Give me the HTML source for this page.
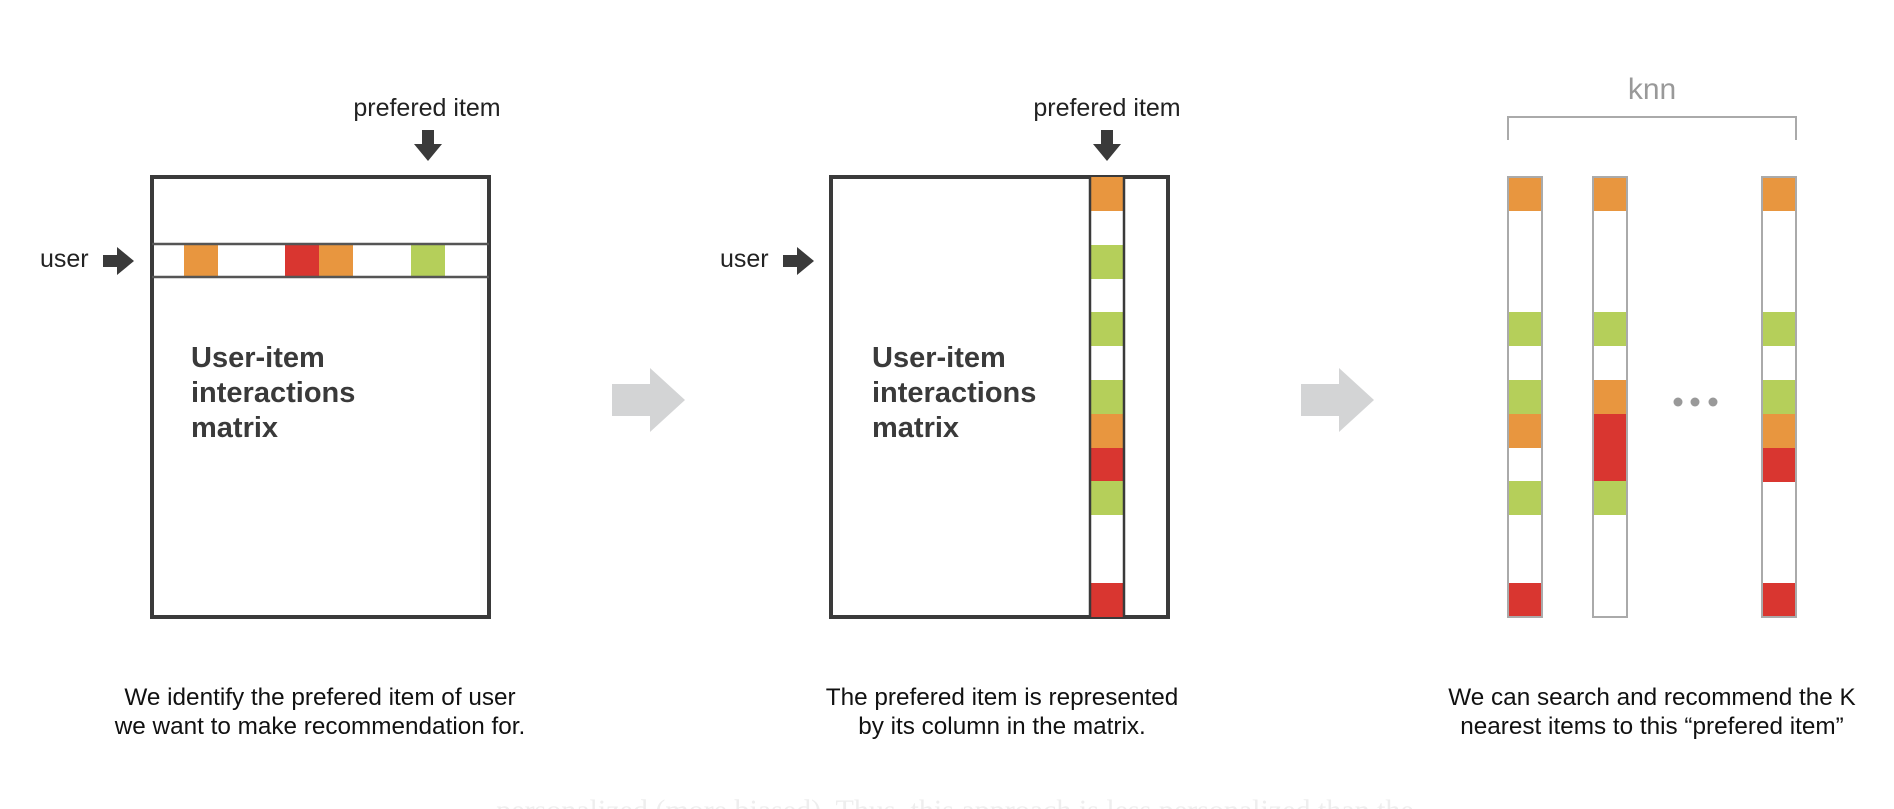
<!DOCTYPE html>
<html><head><meta charset="utf-8"><style>
html,body{margin:0;padding:0;background:#fff;width:1894px;height:809px;overflow:hidden}
text{font-family:"Liberation Sans",Arial,sans-serif}
</style></head><body>
<svg width="1894" height="809" viewBox="0 0 1894 809" xmlns="http://www.w3.org/2000/svg">
<defs>
<g id="darr"><polygon points="-6,0 6,0 6,14 14,14 0,31 -14,14 -6,14" fill="#3a3a3a"/></g>
<g id="rarr"><polygon points="0,-6 14,-6 14,-14 31,0 14,14 14,6 0,6" fill="#3a3a3a"/></g>
<g id="garr"><polygon points="0,-16 38,-16 38,-32 73,0 38,32 38,16 0,16" fill="#d3d4d5"/></g>
</defs>

<text x="427" y="116" font-size="25" text-anchor="middle" fill="#222">prefered item</text>
<use href="#darr" x="428" y="130"/>
<rect x="152" y="177" width="337" height="440" fill="none" stroke="#3a3a3a" stroke-width="4"/>
<rect x="184" y="244" width="34" height="33" fill="#e8963f"/>
<rect x="285" y="244" width="34" height="33" fill="#d93630"/>
<rect x="319" y="244" width="34" height="33" fill="#e8963f"/>
<rect x="411" y="244" width="34" height="33" fill="#b5cf5a"/>
<line x1="152" y1="244" x2="489" y2="244" stroke="#555" stroke-width="2.5"/>
<line x1="152" y1="277" x2="489" y2="277" stroke="#555" stroke-width="2.5"/>
<text x="40" y="267" font-size="25" fill="#222">user</text>
<use href="#rarr" x="103" y="261"/>
<text font-size="29" font-weight="bold" fill="#3a3a3a"><tspan x="191" y="367">User-item</tspan><tspan x="191" y="402">interactions</tspan><tspan x="191" y="437">matrix</tspan></text>
<text x="320" y="705" font-size="24.3" text-anchor="middle" fill="#111">We identify the prefered item of user</text>
<text x="320" y="734" font-size="24.3" text-anchor="middle" fill="#111">we want to make recommendation for.</text>

<use href="#garr" x="612" y="400"/>

<text x="1107" y="116" font-size="25" text-anchor="middle" fill="#222">prefered item</text>
<use href="#darr" x="1107" y="130"/>
<rect x="831" y="177" width="337" height="440" fill="none" stroke="#3a3a3a" stroke-width="4"/>
<rect x="1090" y="177" width="34" height="34" fill="#e8963f"/>
<rect x="1090" y="245" width="34" height="34" fill="#b5cf5a"/>
<rect x="1090" y="312" width="34" height="34" fill="#b5cf5a"/>
<rect x="1090" y="380" width="34" height="34" fill="#b5cf5a"/>
<rect x="1090" y="414" width="34" height="34" fill="#e8963f"/>
<rect x="1090" y="448" width="34" height="34" fill="#d93630"/>
<rect x="1090" y="481" width="34" height="34" fill="#b5cf5a"/>
<rect x="1090" y="583" width="34" height="34" fill="#d93630"/>
<line x1="1090" y1="177" x2="1090" y2="617" stroke="#3a3a3a" stroke-width="2.5"/>
<line x1="1124" y1="177" x2="1124" y2="617" stroke="#3a3a3a" stroke-width="2.5"/>
<text x="720" y="267" font-size="25" fill="#222">user</text>
<use href="#rarr" x="783" y="261"/>
<text font-size="29" font-weight="bold" fill="#3a3a3a"><tspan x="872" y="367">User-item</tspan><tspan x="872" y="402">interactions</tspan><tspan x="872" y="437">matrix</tspan></text>
<text x="1002" y="705" font-size="24.3" text-anchor="middle" fill="#111">The prefered item is represented</text>
<text x="1002" y="734" font-size="24.3" text-anchor="middle" fill="#111">by its column in the matrix.</text>

<use href="#garr" x="1301" y="400"/>

<text x="1652" y="99" font-size="30" text-anchor="middle" fill="#999">knn</text>
<polyline points="1508,140 1508,117 1796,117 1796,140" fill="none" stroke="#aaa" stroke-width="2"/>
<rect x="1508" y="177" width="34" height="34" fill="#e8963f"/>
<rect x="1508" y="312" width="34" height="34" fill="#b5cf5a"/>
<rect x="1508" y="380" width="34" height="34" fill="#b5cf5a"/>
<rect x="1508" y="414" width="34" height="34" fill="#e8963f"/>
<rect x="1508" y="481" width="34" height="34" fill="#b5cf5a"/>
<rect x="1508" y="583" width="34" height="34" fill="#d93630"/>
<rect x="1508" y="177" width="34" height="440" fill="none" stroke="#aaa" stroke-width="2"/>
<rect x="1593" y="177" width="34" height="34" fill="#e8963f"/>
<rect x="1593" y="312" width="34" height="34" fill="#b5cf5a"/>
<rect x="1593" y="380" width="34" height="34" fill="#e8963f"/>
<rect x="1593" y="414" width="34" height="68" fill="#d93630"/>
<rect x="1593" y="481" width="34" height="34" fill="#b5cf5a"/>
<rect x="1593" y="177" width="34" height="440" fill="none" stroke="#aaa" stroke-width="2"/>
<rect x="1762" y="177" width="34" height="34" fill="#e8963f"/>
<rect x="1762" y="312" width="34" height="34" fill="#b5cf5a"/>
<rect x="1762" y="380" width="34" height="34" fill="#b5cf5a"/>
<rect x="1762" y="414" width="34" height="34" fill="#e8963f"/>
<rect x="1762" y="448" width="34" height="34" fill="#d93630"/>
<rect x="1762" y="583" width="34" height="34" fill="#d93630"/>
<rect x="1762" y="177" width="34" height="440" fill="none" stroke="#aaa" stroke-width="2"/>
<circle cx="1678" cy="402" r="4.5" fill="#999"/>
<circle cx="1695" cy="402" r="4.5" fill="#999"/>
<circle cx="1713" cy="402" r="4.5" fill="#999"/>
<text x="1652" y="705" font-size="24.3" text-anchor="middle" fill="#111">We can search and recommend the K</text>
<text x="1652" y="734" font-size="24.3" text-anchor="middle" fill="#111">nearest items to this “prefered item”</text>

<text x="955" y="820" font-size="30" text-anchor="middle" fill="#eee" style="font-family:'Liberation Serif',serif">personalized (more biased). Thus, this approach is less personalized than the</text>
</svg>
</body></html>
